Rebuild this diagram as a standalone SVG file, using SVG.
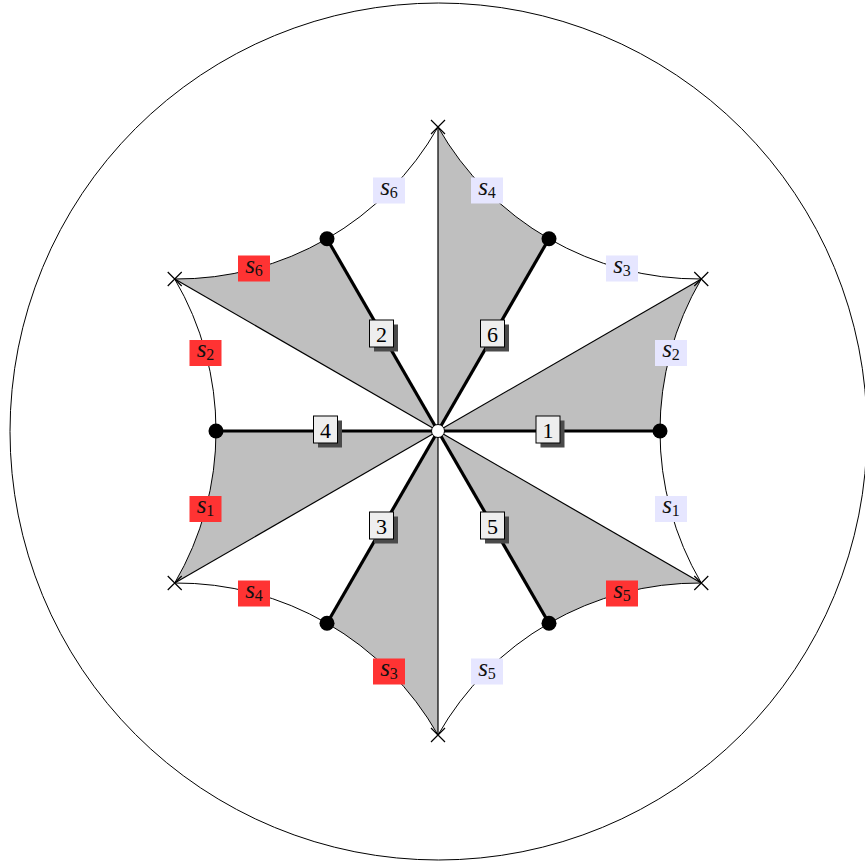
<svg xmlns="http://www.w3.org/2000/svg" width="865" height="864" viewBox="0 0 865 864">
<style>
.region{fill:#bfbfbf;stroke:none}
.arc{fill:none;stroke:#000;stroke-width:1}
.thin{stroke:#000;stroke-width:1.2}
.thick{stroke:#000;stroke-width:3.2}
.dot{fill:#000}
.cross{stroke:#000;stroke-width:1.2}
.nbox{fill:#eeeeee;stroke:#000;stroke-width:1}
.shadow{fill:#4a4a4a}
.ntext{font-family:"Liberation Serif",serif;font-size:22px;fill:#000;text-anchor:middle}
.lav{fill:#e6e6ff}
.red{fill:#ff3333}
.ltext{font-family:"Liberation Serif",serif;font-size:25px;fill:#111;text-anchor:middle}
.sub{font-size:16px;font-style:normal}
</style>
<rect width="865" height="864" fill="#fff"/>
<circle id="outer" cx="438.5" cy="431.5" r="428.5" fill="none" stroke="#000" stroke-width="1"/>
<g id="regions">
<path class="region" d="M438,431 L438,127 A300.5,300.5 0 0 0 549,238.74 Z"/>
<path class="region" d="M438,431 L701.27,279 A300.5,300.5 0 0 0 660,431 Z"/>
<path class="region" d="M438,431 L701.27,583 A300.5,300.5 0 0 0 549,623.26 Z"/>
<path class="region" d="M438,431 L438,735 A300.5,300.5 0 0 0 327,623.26 Z"/>
<path class="region" d="M438,431 L174.73,583 A300.5,300.5 0 0 0 216,431 Z"/>
<path class="region" d="M438,431 L174.73,279 A300.5,300.5 0 0 0 327,238.74 Z"/>
</g>
<g id="connectors">
<path class="arc" d="M438,127 A300.5,300.5 0 0 0 701.27,279 A300.5,300.5 0 0 0 701.27,583 A300.5,300.5 0 0 0 438,735 A300.5,300.5 0 0 0 174.73,583 A300.5,300.5 0 0 0 174.73,279 A300.5,300.5 0 0 0 438,127 Z"/>
<line class="thin" x1="438" y1="431" x2="438" y2="127"/>
<line class="thin" x1="438" y1="431" x2="701.27" y2="279"/>
<line class="thin" x1="438" y1="431" x2="701.27" y2="583"/>
<line class="thin" x1="438" y1="431" x2="438" y2="735"/>
<line class="thin" x1="438" y1="431" x2="174.73" y2="583"/>
<line class="thin" x1="438" y1="431" x2="174.73" y2="279"/>
<line class="thick" x1="438" y1="431" x2="660" y2="431"/>
<line class="thick" x1="438" y1="431" x2="549" y2="238.74"/>
<line class="thick" x1="438" y1="431" x2="327" y2="238.74"/>
<line class="thick" x1="438" y1="431" x2="216" y2="431"/>
<line class="thick" x1="438" y1="431" x2="327" y2="623.26"/>
<line class="thick" x1="438" y1="431" x2="549" y2="623.26"/>
</g>
<g id="dots">
<circle class="dot" cx="660" cy="431" r="7.5"/>
<circle class="dot" cx="549" cy="238.74" r="7.5"/>
<circle class="dot" cx="327" cy="238.74" r="7.5"/>
<circle class="dot" cx="216" cy="431" r="7.5"/>
<circle class="dot" cx="327" cy="623.26" r="7.5"/>
<circle class="dot" cx="549" cy="623.26" r="7.5"/>
</g>
<g id="crosses">
<path class="cross" d="M431,120 L445,134 M445,120 L431,134"/>
<path class="cross" d="M694.27,272 L708.27,286 M708.27,272 L694.27,286"/>
<path class="cross" d="M694.27,576 L708.27,590 M708.27,576 L694.27,590"/>
<path class="cross" d="M431,728 L445,742 M445,728 L431,742"/>
<path class="cross" d="M167.73,576 L181.73,590 M181.73,576 L167.73,590"/>
<path class="cross" d="M167.73,272 L181.73,286 M181.73,272 L167.73,286"/>
</g>
<g id="center">
<circle cx="438" cy="431" r="6.5" fill="#fff" stroke="#000" stroke-width="1"/>
</g>
<g id="n1"><rect class="shadow" x="540.5" y="420.5" width="24" height="27"/><rect class="nbox" x="536" y="416" width="24" height="27"/><text class="ntext" x="548" y="437.5">1</text></g>
<g id="n6"><rect class="shadow" x="485" y="324.5" width="24" height="27"/><rect class="nbox" x="480.5" y="320" width="24" height="27"/><text class="ntext" x="492.5" y="341.5">6</text></g>
<g id="n2"><rect class="shadow" x="374" y="324.5" width="24" height="27"/><rect class="nbox" x="369.5" y="320" width="24" height="27"/><text class="ntext" x="381.5" y="341.5">2</text></g>
<g id="n4"><rect class="shadow" x="318" y="420.5" width="24" height="27"/><rect class="nbox" x="313.5" y="416" width="24" height="27"/><text class="ntext" x="325.5" y="437.5">4</text></g>
<g id="n3"><rect class="shadow" x="374" y="516.5" width="24" height="27"/><rect class="nbox" x="369.5" y="512" width="24" height="27"/><text class="ntext" x="381.5" y="533.5">3</text></g>
<g id="n5"><rect class="shadow" x="485" y="516.5" width="24" height="27"/><rect class="nbox" x="480.5" y="512" width="24" height="27"/><text class="ntext" x="492.5" y="533.5">5</text></g>
<g id="l-s4-lav"><rect class="lav" x="471" y="177.5" width="32" height="26"/><text class="ltext" x="487" y="194.5"><tspan font-style="italic">s</tspan><tspan class="sub" dy="3">4</tspan></text></g>
<g id="l-s3-lav"><rect class="lav" x="606" y="255.5" width="32" height="26"/><text class="ltext" x="622" y="272.5"><tspan font-style="italic">s</tspan><tspan class="sub" dy="3">3</tspan></text></g>
<g id="l-s2-lav"><rect class="lav" x="655" y="340" width="32" height="26"/><text class="ltext" x="671" y="357"><tspan font-style="italic">s</tspan><tspan class="sub" dy="3">2</tspan></text></g>
<g id="l-s1-lav"><rect class="lav" x="655" y="496" width="32" height="26"/><text class="ltext" x="671" y="513"><tspan font-style="italic">s</tspan><tspan class="sub" dy="3">1</tspan></text></g>
<g id="l-s5-red"><rect class="red" x="606" y="580.5" width="32" height="26"/><text class="ltext" x="622" y="597.5"><tspan font-style="italic">s</tspan><tspan class="sub" dy="3">5</tspan></text></g>
<g id="l-s5-lav"><rect class="lav" x="471" y="658.5" width="32" height="26"/><text class="ltext" x="487" y="675.5"><tspan font-style="italic">s</tspan><tspan class="sub" dy="3">5</tspan></text></g>
<g id="l-s3-red"><rect class="red" x="373" y="658.5" width="32" height="26"/><text class="ltext" x="389" y="675.5"><tspan font-style="italic">s</tspan><tspan class="sub" dy="3">3</tspan></text></g>
<g id="l-s4-red"><rect class="red" x="238" y="580.5" width="32" height="26"/><text class="ltext" x="254" y="597.5"><tspan font-style="italic">s</tspan><tspan class="sub" dy="3">4</tspan></text></g>
<g id="l-s1-red"><rect class="red" x="189.5" y="496" width="32" height="26"/><text class="ltext" x="205.5" y="513"><tspan font-style="italic">s</tspan><tspan class="sub" dy="3">1</tspan></text></g>
<g id="l-s2-red"><rect class="red" x="189.5" y="340" width="32" height="26"/><text class="ltext" x="205.5" y="357"><tspan font-style="italic">s</tspan><tspan class="sub" dy="3">2</tspan></text></g>
<g id="l-s6-red"><rect class="red" x="238" y="255.5" width="32" height="26"/><text class="ltext" x="254" y="272.5"><tspan font-style="italic">s</tspan><tspan class="sub" dy="3">6</tspan></text></g>
<g id="l-s6-lav"><rect class="lav" x="373" y="177.5" width="32" height="26"/><text class="ltext" x="389" y="194.5"><tspan font-style="italic">s</tspan><tspan class="sub" dy="3">6</tspan></text></g>
</svg>
